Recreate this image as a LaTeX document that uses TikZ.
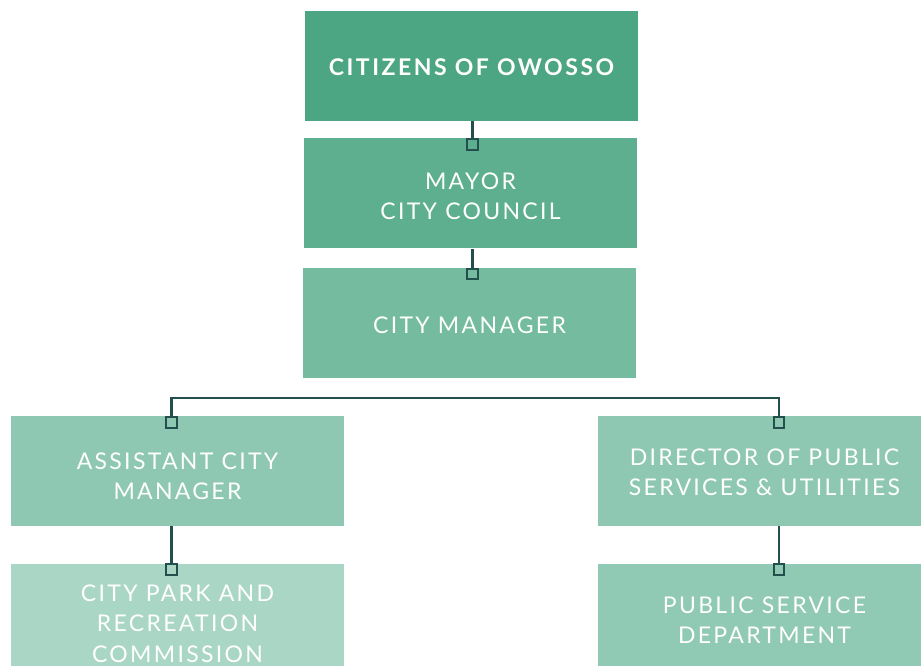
\documentclass[tikz,border=0pt]{standalone}
\usepackage{fontspec}
\setmainfont{Lato}[LetterSpace=10]
\newfontfamily\titlefont{Lato}[LetterSpace=11,BoldFont=* Bold]
\definecolor{cA}{HTML}{4DA683}
\definecolor{cB}{HTML}{5EAF8F}
\definecolor{cC}{HTML}{74BB9F}
\definecolor{cD}{HTML}{8EC8B2}
\definecolor{cE}{HTML}{AAD6C6}
\definecolor{cF}{HTML}{90C9B4}
\definecolor{lk}{HTML}{234F4C}
\tikzset{
  box/.style={minimum width=333pt, minimum height=110pt, inner sep=0pt},
  txt/.style={text=white, align=center, inner sep=0pt, font=\fontsize{23}{30}\selectfont},
  link/.style={draw=lk, line width=2.8pt},
  sq/.style={draw=lk, line width=2pt, minimum size=10.5pt, inner sep=0pt},
}
\begin{document}
\begin{tikzpicture}[x=1pt,y=1pt]
\useasboundingbox (0,0) rectangle (921,666);
\clip (0,0) rectangle (921,666);
\node[box, fill=cA] (b1) at (471.5,600) {};
\node[box, fill=cB] (b2) at (470.5,472.5) {};
\node[box, fill=cC] (b3) at (469.5,343) {};
\node[box, fill=cD] (b4) at (177.5,195) {};
\node[box, fill=cD] (b5) at (764.5,195) {};
\node[box, fill=cE] (b6) at (177.5,47) {};
\node[box, fill=cF] (b7) at (764.5,47) {};
% texts
\node[txt, font=\titlefont\bfseries\fontsize{23}{30}\selectfont] (t1) at ([yshift=-1pt]b1.center) {CITIZENS OF OWOSSO};
\node[txt] (t2) at ([yshift=-3pt]b2.center) {MAYOR\\CITY COUNCIL};
\node[txt] (t3) at ([yshift=-2pt]b3.center) {CITY MANAGER};
\node[txt] (t4) at ([yshift=-5pt]b4.center) {ASSISTANT CITY\\MANAGER};
\node[txt] (t5) at ([yshift=-1pt]b5.center) {DIRECTOR OF PUBLIC\\SERVICES \& UTILITIES};
\node[txt, font=\fontsize{23}{30.5}\selectfont] (t6) at (177.5,42.5) {CITY PARK AND\\RECREATION\\COMMISSION};
\node[txt] (t7) at ([yshift=-1pt]b7.center) {PUBLIC SERVICE\\DEPARTMENT};
% squares
\node[sq, fill=cB] (s2) at (472.5,521.5) {};
\node[sq, fill=cC] (s3) at (472.5,392) {};
\node[sq, fill=cD] (s4) at (171.5,243.5) {};
\node[sq, fill=cD] (s5) at (779,243.5) {};
\node[sq, fill=cE] (s6) at (171.5,96.5) {};
\node[sq, fill=cF] (s7) at (779,96.5) {};
\coordinate (bus) at (0,268);
% connectors
\draw[link] (s2 |- b1.south) -- (s2);
\draw[link] (s3 |- b2.south) -- (s3);
\draw[link] (s4) -- (s4 |- bus) -- (s5 |- bus) -- (s5);
\draw[link] (s6 |- b4.south) -- (s6);
\draw[link] (s7 |- b5.south) -- (s7);
\end{tikzpicture}
\end{document}
